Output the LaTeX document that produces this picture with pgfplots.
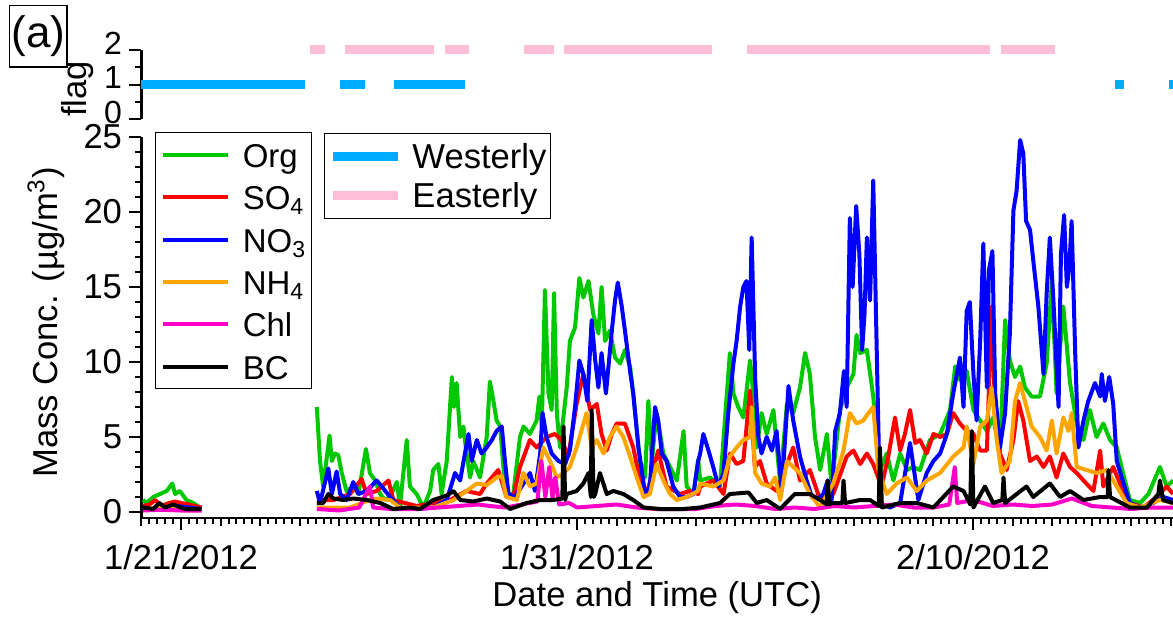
\documentclass[border=0pt]{standalone}
\usepackage{fontspec}
\setmainfont{Liberation Sans}
\usepackage{pgfplots}
\pgfplotsset{compat=1.18}

\definecolor{cOrg}{RGB}{0,200,0}
\definecolor{cSO}{RGB}{255,0,0}
\definecolor{cNO}{RGB}{0,0,255}
\definecolor{cNH}{RGB}{255,165,0}
\definecolor{cChl}{RGB}{255,0,200}
\definecolor{cWest}{RGB}{0,170,255}
\definecolor{cEast}{RGB}{255,190,215}

\newcommand\fs{\fontsize{17.3}{20}\selectfont}
\newcommand\lfs{\fontsize{16.5}{19}\selectfont}

\pgfplotsset{
  base/.style={
    scale only axis, width=515.8pt, xmin=0, xmax=26.05,
    axis line style={line width=1.2pt},
    tick style={line width=1pt, black},
    major tick length=6pt, minor tick length=3pt,
    ticklabel style={font=\fs},
    yticklabel style={inner xsep=3.5pt, inner ysep=0pt},
    /pgf/number format/assume math mode=true,
    label style={font=\fs},
  },
  series/.style={line width=2pt, line join=round, unbounded coords=jump},
}

\begin{document}
\begin{tikzpicture}
\path[use as bounding box] (0,0) rectangle (586.5pt,-310pt);
\node[draw, line width=0.6pt, minimum width=28.7pt, minimum height=30.6pt,
      inner sep=0pt, font=\fontsize{22}{26}\selectfont] at (19.15pt,-18.2pt) {(a)};

% ---- main panel ----
\begin{axis}[base,
  at={(70.7pt,-259pt)}, anchor=south west, height=190.5pt,
  ymin=-0.4, ymax=25,
  axis x line*=bottom, axis y line*=left,
  ytick={0,5,...,25}, minor y tick num=4,
  xtick={1,11,21}, xticklabels={1/21/2012,1/31/2012,2/10/2012},
  xticklabel style={yshift=-3.5pt},
  minor xtick={0,0.2,...,26},
  extra x ticks={0,...,26}, extra x tick labels={},
  extra x tick style={major tick length=4pt},
  tick align=outside,
  xlabel={Date and Time (UTC)},
  xlabel style={at={(axis description cs:0.5,-0.21)}, anchor=center},
  ylabel={Mass Conc. (µg/m\textsuperscript{3})},
  ylabel style={at={(axis description cs:-0.0818,0.5134)}, anchor=base},
  legend cell align=left,
  legend image code/.code={\draw[#1, line width=2pt] (0pt,0pt) -- (32.5pt,0pt);},
  legend style={at={(axis description cs:0.0132,1.0123)}, anchor=north west,
    draw=black, line width=0.5pt, font=\lfs, fill=white,
    inner xsep=2.85pt, inner ysep=4.8pt, row sep=8.8pt, column sep=6.3pt,
    nodes={inner sep=0pt, text height=12.4pt, text depth=0pt}},
]
\addplot[series, cOrg] coordinates {
(0.04,0.8) (0.13,0.6) (0.30,1.0) (0.47,1.2) (0.64,1.4) (0.78,1.9) (0.85,1.2) (0.97,1.4) (1.14,0.8) (1.31,0.6) (1.48,0.3) (1.52,0.3)
(3,nan)
(4.43,7.0) (4.51,3.4) (4.59,1.7) (4.75,5.1) (4.81,3.4) (4.89,3.9) (4.97,3.8) (5.06,2.6) (5.18,1.4) (5.35,1.7) (5.48,1.2) (5.67,4.2)
(5.77,2.6) (5.90,2.1) (6.03,1.2) (6.15,0.8) (6.28,1.0) (6.45,2.0) (6.53,0.4) (6.70,4.8) (6.78,1.7) (6.95,1.2) (7.12,0.3) (7.29,1.4)
(7.37,2.8) (7.50,3.2) (7.58,1.2) (7.71,3.4) (7.84,9.0) (7.89,7.0) (7.96,8.6) (8.05,5.0) (8.13,5.7) (8.21,3.9) (8.30,2.3) (8.38,3.4)
(8.55,2.3) (8.72,5.0) (8.80,8.7) (8.89,7.4) (8.97,6.1) (9.06,5.7) (9.14,3.0) (9.22,1.2) (9.39,1.2) (9.56,5.0) (9.65,5.7) (9.81,5.2)
(9.98,6.1) (10.05,7.7) (10.11,5.7) (10.19,14.8) (10.28,7.9) (10.36,6.8) (10.42,14.6) (10.49,6.6) (10.57,4.3) (10.74,8.3) (10.82,11.4)
(10.95,12.3) (11.06,15.6) (11.16,14.3) (11.29,15.4) (11.41,13.2) (11.54,11.9) (11.62,15.0) (11.71,11.4) (11.83,12.1) (11.96,10.3)
(12.09,9.9) (12.21,10.8) (12.34,9.7) (12.42,7.9) (12.59,3.4) (12.72,2.3) (12.80,7.4) (12.89,3.4) (13.01,6.6) (13.18,3.9) (13.35,3.0)
(13.52,2.1) (13.69,5.4) (13.77,1.7) (13.94,1.2) (14.06,3.5) (14.11,2.1)
(14.36,2.3) (14.61,1.7) (14.86,10.6) (14.95,7.9) (15.07,7.0) (15.20,6.3) (15.37,10.1) (15.45,7.9) (15.54,4.3) (15.66,6.6) (15.79,5.2)
(15.96,6.8) (16.13,1.9) (16.30,7.2) (16.46,6.6) (16.63,8.3) (16.76,10.6) (16.88,9.2) (17.01,5.0) (17.14,2.8) (17.31,5.2) (17.43,1.7)
(17.64,6.8) (17.81,8.3) (17.98,9.2) (18.06,11.8) (18.15,10.6) (18.32,10.8) (18.48,7.7) (18.65,2.8) (18.82,3.9) (18.99,2.1) (19.16,3.9)
(19.33,2.8) (19.49,3.0) (19.66,2.8) (19.91,4.8) (20.17,5.2) (20.42,6.8) (20.55,9.7) (20.67,8.8) (20.84,9.4) (21.01,6.8) (21.18,6.1)
(21.35,5.4) (21.51,6.3) (21.68,3.9) (21.81,12.8) (21.93,10.1) (22.06,9.0) (22.19,9.7) (22.31,8.3) (22.48,7.7) (22.69,7.7) (22.86,9.9)
(22.99,15.4) (23.11,7.9) (23.28,13.7) (23.37,11.0) (23.45,8.6) (23.62,5.9) (23.79,4.8) (23.95,6.8) (24.12,5.0) (24.29,5.9) (24.46,4.8)
(24.63,4.3) (24.75,3.0) (24.96,0.8) (25.22,0.6) (25.43,1.2) (25.72,3.0) (25.89,1.7) (26.05,2.1)
};
\addlegendentry{Org}
\addplot[series, cSO] coordinates {
(0.04,0.4) (0.2,0.5) (0.35,0.8) (0.5,0.4) (0.7,0.6) (0.85,0.7) (1.0,0.6) (1.2,0.5) (1.35,0.4) (1.52,0.3)
(3,nan)
(4.43,0.8) (4.85,0.8) (5.27,1.2) (5.56,2.2) (5.69,1.2) (5.94,1.4) (6.24,2.1) (6.36,0.8) (6.95,0.4) (7.37,0.6) (7.79,0.8) (8.21,1.4)
(8.55,1.2) (8.72,1.9) (9.01,2.8) (9.22,1.0) (9.39,1.0) (9.56,3.0) (9.81,4.8) (9.98,4.3) (10.23,5.0) (10.44,5.2) (10.61,4.8) (10.78,3.7)
(10.99,7.2) (11.16,9.2) (11.33,6.8) (11.50,7.2) (11.62,5.2) (11.75,4.1) (11.88,5.2) (12.00,5.9) (12.21,5.9) (12.42,4.3) (12.59,2.1)
(12.76,1.2) (13.05,4.1) (13.26,1.7) (13.60,1.2) (13.85,1.4) (14.06,1.2)
(14.11,1.7) (14.44,2.1) (14.70,1.2) (14.86,3.9) (15.03,3.2) (15.20,3.4) (15.37,8.1) (15.49,3.0) (15.62,3.4) (15.79,1.9) (16.04,1.4)
(16.30,3.2) (16.46,4.3) (16.63,2.1) (16.88,2.8) (17.14,0.8) (17.47,1.2) (17.81,3.7) (17.98,4.1) (18.15,3.2) (18.32,3.9) (18.48,3.2)
(18.69,1.7) (18.86,3.7) (19.03,6.3) (19.16,4.1) (19.28,5.2) (19.41,6.8) (19.54,4.6) (19.66,4.8) (19.83,3.9) (20.00,5.2) (20.17,5.0)
(20.34,5.2) (20.50,6.6) (20.67,5.9) (20.84,5.4) (21.01,5.2) (21.18,4.1) (21.35,4.1) (21.47,13.7) (21.56,6.6) (21.68,3.9) (21.85,2.8)
(22.02,4.8) (22.14,7.4) (22.27,6.1) (22.44,3.4) (22.61,3.7) (22.78,3.0) (22.94,3.7) (23.11,2.3) (23.28,3.9) (23.45,3.0) (23.62,2.6)
(23.79,2.1) (24.04,1.4) (24.21,4.1) (24.29,1.7) (24.54,3.0) (24.71,1.9) (24.96,0.6) (25.30,0.3) (25.64,1.0) (25.89,1.7) (26.05,1.2)
};
\addlegendentry{SO\textsubscript{4}}
\addplot[series, cNO] coordinates {
(0.04,0.3) (0.3,0.2) (0.6,0.3) (0.9,0.4) (1.2,0.3) (1.52,0.2)
(3,nan)
(4.43,1.4) (4.51,0.6) (4.72,2.9) (4.81,1.2) (4.93,2.7) (5.02,1.2) (5.18,0.8) (5.35,2.0) (5.48,1.2) (5.69,1.4) (5.94,2.1) (6.07,1.7)
(6.28,1.0) (6.53,0.3) (6.95,0.2) (7.37,0.3) (7.71,0.8) (7.92,2.6) (8.05,2.1) (8.17,3.9) (8.26,5.2) (8.34,3.4) (8.47,4.8) (8.59,3.9)
(8.72,4.3) (8.85,4.8) (8.97,5.4) (9.10,5.7) (9.18,3.4) (9.27,1.2) (9.43,1.0) (9.60,1.7) (9.81,2.6) (9.94,1.4) (10.07,3.9) (10.13,6.6)
(10.23,5.0) (10.36,3.9) (10.53,3.4) (10.70,3.2) (10.82,4.1) (10.95,7.0) (11.06,10.1) (11.16,9.2) (11.26,7.4) (11.37,12.8) (11.46,10.1)
(11.54,8.3) (11.62,10.6) (11.73,7.9) (11.88,12.1) (11.96,14.1) (12.03,15.3) (12.13,13.7) (12.21,12.1) (12.34,9.4) (12.42,7.9)
(12.55,4.3) (12.72,1.2) (12.84,1.7) (12.97,7.0) (13.05,6.1) (13.14,3.9) (13.26,3.4) (13.43,1.7) (13.60,1.0) (13.77,1.0) (13.94,1.2)
(14.06,3.4)
(14.11,3.9) (14.19,5.2) (14.32,4.1) (14.44,3.0) (14.57,1.7) (14.70,2.6) (14.82,6.6) (14.95,9.9) (15.03,11.4) (15.12,13.7) (15.20,15.0)
(15.28,15.4) (15.35,10.8) (15.41,18.3) (15.50,8.8) (15.58,5.0) (15.66,3.9) (15.79,5.0) (15.92,4.1) (16.04,5.4) (16.17,1.4) (16.34,8.4)
(16.46,6.1) (16.63,3.7) (16.80,2.1) (16.93,1.0) (17.05,0.8) (17.22,1.2) (17.33,2.1) (17.43,0.8) (17.52,5.4) (17.64,6.6) (17.74,9.4)
(17.81,7.0) (17.89,19.6) (17.96,15.0) (18.05,20.4) (18.13,17.2) (18.20,10.8) (18.26,13.2) (18.32,18.3) (18.40,14.1) (18.48,22.1)
(18.57,10.6) (18.65,0.6) (18.90,0.3) (19.16,0.6) (19.41,4.6) (19.62,0.8) (19.83,2.6) (20.00,3.4) (20.17,3.9) (20.34,5.2) (20.50,7.9)
(20.67,10.3) (20.76,7.0) (20.84,13.4) (20.92,14.0) (21.01,9.2) (21.09,6.1) (21.18,11.4) (21.26,17.9) (21.35,8.3) (21.40,16.1)
(21.49,17.4) (21.56,7.9) (21.68,4.3) (21.81,6.6) (21.93,11.9) (22.02,20.1) (22.10,21.4) (22.19,24.8) (22.27,23.9) (22.34,19.4)
(22.44,18.8) (22.52,16.8) (22.65,13.7) (22.78,9.2) (22.86,14.6) (22.94,18.3) (23.03,14.1) (23.16,7.0) (23.22,17.2) (23.30,19.8)
(23.37,15.0) (23.43,16.3) (23.49,19.4) (23.58,10.6) (23.66,4.3) (23.79,6.1) (23.91,7.4) (24.08,8.6) (24.21,7.7) (24.25,9.2) (24.33,7.4)
(24.44,9.0) (24.54,7.2) (24.63,3.4) (24.80,1.9) (24.96,0.6) (25.22,0.3) (25.55,0.6) (25.81,1.0) (26.05,0.8)
};
\addlegendentry{NO\textsubscript{3}}
\addplot[series, cNH] coordinates {
(0.04,0.2) (0.5,0.3) (1.0,0.2) (1.52,0.2)
(3,nan)
(4.43,0.3) (5.27,0.3) (5.77,0.8) (5.94,0.9) (6.28,0.8) (6.53,0.3) (7.37,0.3) (7.88,0.8) (8.21,1.4) (8.47,1.9) (8.72,1.8) (8.97,2.3)
(9.10,2.4) (9.22,1.0) (9.48,0.8) (9.65,2.6) (9.81,1.7) (9.98,1.9) (10.15,4.3) (10.32,3.4) (10.49,2.3) (10.66,2.6) (10.82,3.0)
(10.99,4.3) (11.24,6.6) (11.37,4.3) (11.50,4.8) (11.67,3.9) (11.83,5.0) (12.00,5.7) (12.17,5.0) (12.34,3.7) (12.51,2.3) (12.68,1.0)
(12.84,1.2) (13.01,3.2) (13.18,2.1) (13.35,1.2) (13.52,0.8) (13.77,1.0) (14.06,1.4)
(14.11,1.9) (14.44,1.7) (14.70,2.1) (14.86,3.7) (15.03,4.3) (15.20,4.8) (15.37,5.0) (15.41,7.0) (15.50,2.6) (15.66,1.9) (15.87,1.7)
(16.00,2.3) (16.13,0.8) (16.30,3.4) (16.46,3.0) (16.63,2.6) (16.88,1.2) (17.14,0.3) (17.47,1.9) (17.73,4.1) (17.89,6.6) (18.06,5.9)
(18.23,6.1) (18.36,6.6) (18.48,7.0) (18.61,2.8) (18.82,1.2) (19.07,1.9) (19.33,2.3) (19.58,1.4) (19.83,2.1) (20.17,2.6) (20.50,3.7)
(20.76,4.3) (20.84,5.7) (21.01,3.2) (21.18,5.7) (21.35,6.1) (21.47,8.3) (21.60,4.8) (21.72,2.6) (21.93,3.4) (22.06,7.4) (22.19,8.6)
(22.31,7.4) (22.48,5.7) (22.69,5.0) (22.86,4.1) (22.99,6.1) (23.11,3.9) (23.28,6.3) (23.41,5.4) (23.49,6.6) (23.62,3.0) (23.87,2.8)
(24.12,2.6) (24.38,2.8) (24.63,1.7) (24.88,0.6) (25.22,0.3) (25.72,0.8) (26.05,0.6)
};
\addlegendentry{NH\textsubscript{4}}
\addplot[series, cChl] coordinates {
(0.04,0.1) (0.5,0.15) (1.0,0.1) (1.52,0.1)
(3,nan)
(4.43,0.2) (5.0,0.1) (5.5,0.3) (5.77,1.7) (5.85,0.3) (6.3,0.2) (7.0,0.2) (7.5,0.3) (8.0,0.4) (8.5,0.5) (8.8,0.4) (9.2,0.3) (9.6,0.5)
(10.0,0.7) (10.1,3.4) (10.2,1.0) (10.3,3.0) (10.38,0.9) (10.45,2.3) (10.55,0.5) (10.8,0.6) (11.0,0.3) (11.5,0.4) (12.0,0.5) (12.5,0.3)
(13.0,0.2) (13.5,0.2) (14.0,0.2) (14.5,0.4) (15.0,0.5) (15.5,0.4) (16.0,0.2) (16.5,0.3) (17.0,0.2) (17.5,0.4) (18.0,0.3) (18.5,0.4)
(19.0,0.5) (19.5,0.3) (20.0,0.3) (20.4,0.5) (20.54,3.0) (20.6,0.6) (21.0,0.8) (21.5,0.4) (22.0,0.5) (22.5,0.4) (23.0,0.5) (23.5,0.9)
(24.0,0.4) (24.5,0.3) (25.0,0.2) (25.5,0.3) (26.05,0.3)
};
\addlegendentry{Chl}
\addplot[series, black] coordinates {
(0.04,0.3) (0.3,0.2) (0.45,0.6) (0.6,0.3) (0.8,0.5) (0.9,0.4) (1.1,0.2) (1.3,0.2) (1.52,0.2)
(3,nan)
(4.43,0.6) (4.59,0.6) (4.72,1.2) (4.85,0.9) (5.10,0.8) (5.35,0.9) (5.69,0.8) (6.03,0.6) (6.36,0.2) (6.78,0.3) (7.04,0.2) (7.37,0.8)
(7.71,1.1) (7.88,1.4) (8.05,0.8) (8.38,0.7) (8.72,0.9) (9.06,0.7) (9.31,0.2) (9.73,0.6) (10.07,0.8) (10.40,0.8) (10.63,0.9) (10.66,5.7)
(10.70,0.8) (10.74,1.2) (10.99,1.4) (11.16,1.9) (11.29,2.6) (11.35,1.0) (11.37,6.8) (11.42,1.0) (11.46,1.2) (11.58,2.6) (11.75,1.2)
(11.92,1.4) (12.17,1.2) (12.42,0.8) (12.68,0.3) (13.10,0.2) (13.69,0.2) (14.11,0.3)
(14.61,0.6) (14.86,1.2) (15.33,1.3) (15.54,0.6) (15.79,0.8) (16.13,0.2) (16.50,1.2) (16.88,1.2) (17.14,0.8) (17.31,0.5) (17.33,2.1)
(17.37,0.5) (17.43,0.6) (17.70,0.6) (17.73,2.1) (17.77,0.6) (18.15,0.8) (18.40,0.8) (18.62,0.4) (18.65,4.3) (18.70,0.3) (19.16,0.6)
(19.58,0.6) (20.00,0.3) (20.50,1.7) (20.76,1.4) (20.93,0.5) (20.97,5.4) (21.01,0.3) (21.30,1.7) (21.51,0.6) (21.74,0.8) (21.77,2.3)
(21.81,0.6) (22.35,1.7) (22.52,1.0) (22.94,1.9) (23.20,1.0) (23.45,1.4) (23.79,0.8) (24.21,1.0) (24.40,1.0) (24.42,2.8) (24.46,1.0)
(24.96,0.3) (25.39,0.3) (25.68,1.2) (25.72,2.1) (25.80,0.8) (26.05,0.6)
};
\addlegendentry{BC}
\end{axis}

% ---- flag panel ----
\begin{axis}[base,
  at={(70.7pt,-59.7pt)}, anchor=south west, height=34.85pt,
  ymin=0, ymax=2, clip=false,
  axis x line=none, axis y line*=left,
  ytick={0,1,2}, minor y tick num=1,
  yticklabel style={font=\fontsize{16}{19}\selectfont, yshift=3.3pt},
  tick align=outside,
  ylabel={flag},
  ylabel style={at={(axis description cs:-0.0532,0.436)}, anchor=base},
  legend cell align=left,
  legend image code/.code={\draw[#1, line width=4.5pt] (0pt,0pt) -- (32.5pt,0pt);},
  legend style={at={(axis description cs:0.177,-0.195)}, anchor=north west,
    draw=black, line width=0.5pt, font=\fs, fill=white,
    inner xsep=2.1pt, inner ysep=5.3pt, row sep=7.1pt, column sep=4.9pt,
    nodes={inner sep=0pt, text height=12.4pt, text depth=0pt}},
]
\addplot[cWest, line width=4.75pt, unbounded coords=jump] coordinates {
(0,1) (4.14,1) (4.5,nan) (5.02,1) (5.64,1) (6,nan) (6.39,1) (8.16,1) (9,nan)
(24.58,1) (24.82,1) (25,nan) (25.94,1) (26.05,1)
};
\addlegendentry{Westerly}
\addplot[cEast, line width=4.75pt, unbounded coords=jump] coordinates {
(4.27,2) (4.63,2) (4.9,nan) (5.15,2) (7.39,2) (7.5,nan) (7.66,2) (8.28,2) (9,nan)
(9.66,2) (10.41,2) (10.5,nan) (10.66,2) (14.42,2) (15,nan) (15.29,2) (21.44,2) (21.6,nan) (21.70,2) (23.07,2)
};
\addlegendentry{Easterly}
\end{axis}
\end{tikzpicture}
\end{document}
